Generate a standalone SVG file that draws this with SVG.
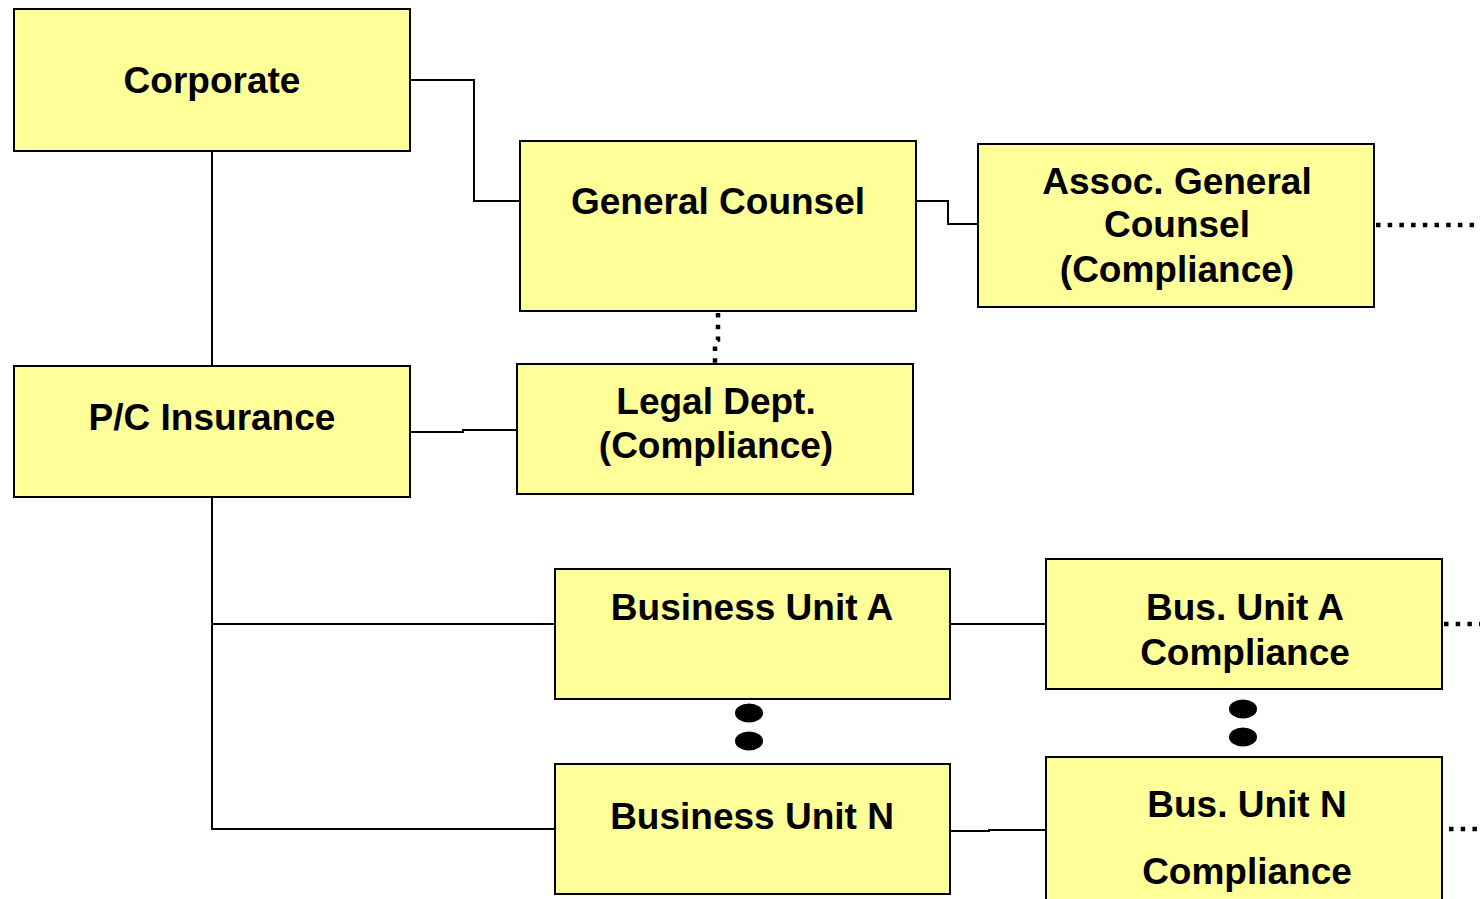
<svg xmlns="http://www.w3.org/2000/svg" width="1480" height="899" viewBox="0 0 1480 899">
<style>
.box{fill:#FFFF99;stroke:#000;stroke-width:2}
.t{font-family:"Liberation Sans",Arial,sans-serif;font-weight:bold;font-size:37px;fill:#000;text-anchor:middle}
.c{fill:none;stroke:#000;stroke-width:2}
.d{fill:none;stroke:#000;stroke-width:4.5;stroke-dasharray:4.5 7.2}
</style>
<rect width="1480" height="899" fill="#fff"/>
<g id="connectors">
<polyline class="c" points="410,80 474,80 474,201 520,201"/>
<polyline class="c" points="212,151 212,366"/>
<polyline class="c" points="916,201 948,201 948,224 978,224"/>
<polyline class="d" points="718,313 718,340 715,342 715,364"/>
<polyline class="c" points="410,432 463,432 463,430 517,430"/>
<polyline class="c" points="212,497 212,829 555,829"/>
<polyline class="c" points="212,624 555,624"/>
<polyline class="c" points="950,624 1046,624"/>
<polyline class="c" points="950,831 989,831 989,830 1046,830"/>
<line class="d" x1="1376" y1="225" x2="1480" y2="225"/>
<line class="d" x1="1444" y1="624" x2="1480" y2="624"/>
<line class="d" x1="1449" y1="829" x2="1480" y2="829"/>
<ellipse cx="749" cy="713" rx="14" ry="9.5"/>
<ellipse cx="749" cy="741" rx="14" ry="9.5"/>
<ellipse cx="1243" cy="709" rx="14" ry="9.5"/>
<ellipse cx="1243" cy="737" rx="14" ry="9.5"/>
</g>
<g id="corporate"><rect class="box" x="14" y="9" width="396" height="142"/><text class="t" x="212" y="93">Corporate</text></g>
<g id="general-counsel"><rect class="box" x="520" y="141" width="396" height="170"/><text class="t" x="718" y="214">General Counsel</text></g>
<g id="assoc-gc"><rect class="box" x="978" y="144" width="396" height="163"/><text class="t" x="1177" y="194">Assoc. General</text><text class="t" x="1177" y="237">Counsel</text><text class="t" x="1177" y="282">(Compliance)</text></g>
<g id="pc-insurance"><rect class="box" x="14" y="366" width="396" height="131"/><text class="t" x="212" y="430">P/C Insurance</text></g>
<g id="legal-dept"><rect class="box" x="517" y="364" width="396" height="130"/><text class="t" x="716" y="414">Legal Dept.</text><text class="t" x="716" y="458">(Compliance)</text></g>
<g id="bu-a"><rect class="box" x="555" y="569" width="395" height="130"/><text class="t" x="752" y="620">Business Unit A</text></g>
<g id="bu-a-compliance"><rect class="box" x="1046" y="559" width="396" height="130"/><text class="t" x="1245" y="620">Bus. Unit A</text><text class="t" x="1245" y="665">Compliance</text></g>
<g id="bu-n"><rect class="box" x="555" y="764" width="395" height="130"/><text class="t" x="752" y="829">Business Unit N</text></g>
<g id="bu-n-compliance"><rect class="box" x="1046" y="757" width="396" height="160"/><text class="t" x="1247" y="817">Bus. Unit N</text><text class="t" x="1247" y="884">Compliance</text></g>
</svg>
